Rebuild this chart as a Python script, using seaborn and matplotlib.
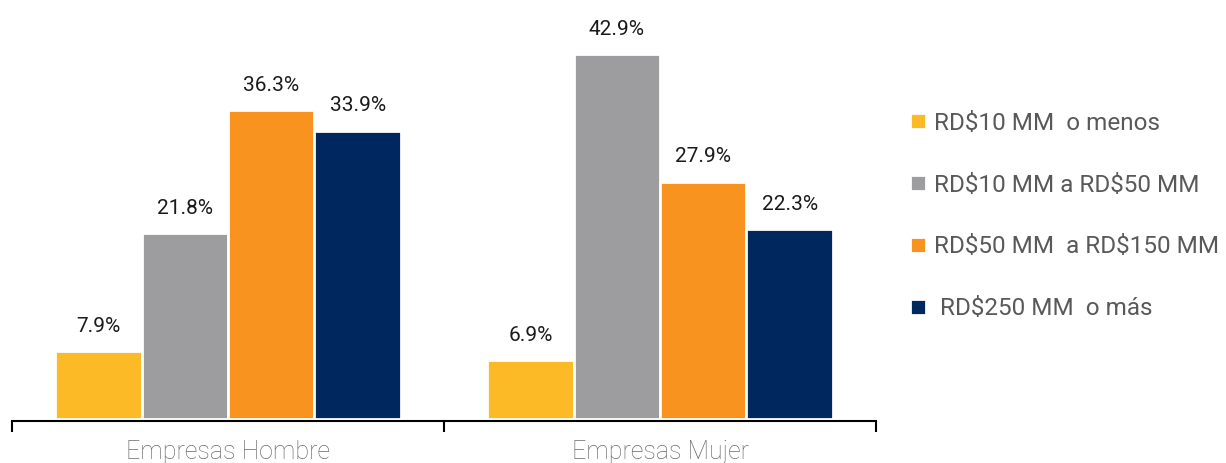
import matplotlib
matplotlib.use("Agg")
import matplotlib.pyplot as plt
import seaborn as sns
import pandas as pd

grupos = ["Empresas Hombre", "Empresas Mujer"]
rangos = ["RD\\$10 MM  o menos", "RD\\$10 MM a RD\\$50 MM",
          "RD\\$50 MM  a RD\\$150 MM", " RD\\$250 MM  o más"]
hombre = [7.9, 21.8, 36.3, 33.9]
mujer = [6.9, 42.9, 27.9, 22.3]
colores = ["#FBBA26", "#9D9D9F", "#F7931E", "#00285E"]

df = pd.DataFrame({
    "grupo": [grupos[0]] * 4 + [grupos[1]] * 4,
    "rango": rangos + rangos,
    "valor": hombre + mujer,
})

sns.set_style("white")
plt.rcParams["font.family"] = ["Roboto", "DejaVu Sans"]

fig = plt.figure(figsize=(12.26, 4.63), dpi=100)
ax = fig.add_axes([12 / 1226, 42 / 463, 864 / 1226, 421 / 463])

sns.barplot(data=df, x="grupo", y="valor", hue="rango", order=grupos,
            hue_order=rangos, palette=colores, saturation=1,
            edgecolor="white", linewidth=2, ax=ax)

# etiquetas de valor sobre cada barra
for c in ax.containers:
    ax.bar_label(c, labels=[f"{b.get_height():.1f}%" for b in c],
                 padding=11, fontsize=15, color="#1a1a1a")

ax.set_xlim(-0.5, 1.5)
ax.set_ylim(-0.29, 49.3)
ax.set_xlabel("")
ax.set_ylabel("")
ax.set_yticks([])
for s in ["top", "right", "left"]:
    ax.spines[s].set_visible(False)
ax.spines["bottom"].set_linewidth(1.5)
ax.spines["bottom"].set_color("black")

# marcas entre categorias
ax.set_xticks([-0.5, 0.5, 1.5], minor=True)
ax.tick_params(axis="x", which="minor", bottom=True, length=8, width=1.5,
               direction="out", color="black")
ax.tick_params(axis="x", which="major", length=0, pad=13.5,
               labelsize=18, labelcolor="#6b6b6b")
for t in ax.get_xticklabels():
    t.set_fontweight("light")

handles, labels = ax.get_legend_handles_labels()
ax.legend(handles, labels, loc="center left",
          bbox_to_anchor=(910 / 1226, (463 - 216) / 463),
          bbox_transform=fig.transFigure, frameon=False,
          fontsize=17.5, labelcolor="#595959", handlelength=0.65,
          handleheight=0.65, handletextpad=0.35, labelspacing=1.6,
          borderaxespad=0, borderpad=0)

fig.savefig("out.png", dpi=100)
